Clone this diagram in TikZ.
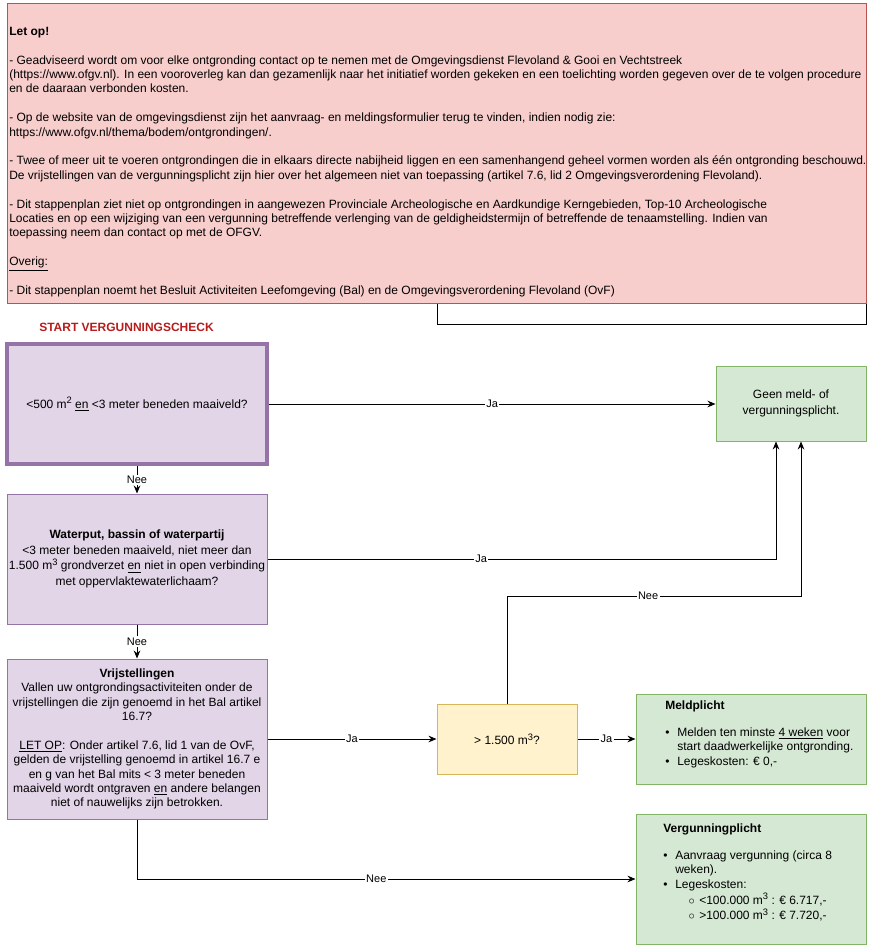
\documentclass[tikz,border=0pt]{standalone}
\usepackage{fontspec}
\setmainfont{Liberation Sans}
\usetikzlibrary{arrows.meta}

\newcommand{\macht}[1]{\raisebox{3.3pt}{\fontsize{7}{7}\selectfont #1}}

\begin{document}
\begin{tikzpicture}[x=0.75pt, y=-0.75pt,
    vraag/.style={draw=Cpaarsrand, fill=Cpaars, line width=0.75pt, minimum width=195pt, align=center, inner sep=0pt, font=\fontsize{9}{10.8}\selectfont},
    uitkomst/.style={draw=Cgroenrand, fill=Cgroen, line width=0.75pt, minimum width=172.5pt, inner sep=0pt},
    lijst/.style={anchor=north west, align=left, inner sep=0pt, font=\fontsize{9}{10.8}\selectfont},
    pijl/.style={draw=black, line width=0.75pt, -{Stealth[length=6pt, width=5pt]}},
    lbl/.style={fill=white, inner sep=1pt, font=\fontsize{8.25}{9}\selectfont}
]
    \definecolor{Cnote}{HTML}{F8CECC}
    \definecolor{Cnoterand}{HTML}{B85450}
    \definecolor{Cpaars}{HTML}{E1D5E7}
    \definecolor{Cpaarsrand}{HTML}{9673A6}
    \definecolor{Cgroen}{HTML}{D5E8D4}
    \definecolor{Cgroenrand}{HTML}{82B366}
    \definecolor{Cgeel}{HTML}{FFF2CC}
    \definecolor{Cgeelrand}{HTML}{D6B656}
    \definecolor{Crood}{HTML}{B71C1C}

    \useasboundingbox (0,0) rectangle (879,949);

    \coordinate (nee_knik) at (801,596);

    \node[draw=black, fill=white, line width=0.75pt, minimum width=321.75pt, minimum height=33pt, inner sep=0pt] (let_op_achter) at (651.5,302) {};
    \node[draw=Cnoterand, fill=Cnote, line width=0.75pt, minimum width=644.25pt, minimum height=224.25pt, inner sep=0pt] (let_op) at (436.5,153.5) {};
    \node[lijst] (let_op_tekst) at (9,26.7) {
        \textbf{Let op!}\\[10.8pt]
        - Geadviseerd wordt om voor elke ontgronding contact op te nemen met de Omgevingsdienst Flevoland \& Gooi en Vechtstreek\\
        (https://www.ofgv.nl). In een vooroverleg kan dan gezamenlijk naar het initiatief worden gekeken en een toelichting worden gegeven over de te volgen procedure\\
        en de daaraan verbonden kosten.\\[10.8pt]
        - Op de website van de omgevingsdienst zijn het aanvraag- en meldingsformulier terug te vinden, indien nodig zie:\\
        https://www.ofgv.nl/thema/bodem/ontgrondingen/.\\[10.8pt]
        - Twee of meer uit te voeren ontgrondingen die in elkaars directe nabijheid liggen en een samenhangend geheel vormen worden als één ontgronding beschouwd.\\
        De vrijstellingen van de vergunningsplicht zijn hier over het algemeen niet van toepassing (artikel 7.6, lid 2 Omgevingsverordening Flevoland).\\[10.8pt]
        - Dit stappenplan ziet niet op ontgrondingen in aangewezen Provinciale Archeologische en Aardkundige Kerngebieden, Top-10 Archeologische\\
        Locaties en op een wijziging van een vergunning betreffende verlenging van de geldigheidstermijn of betreffende de tenaamstelling. Indien van\\
        toepassing neem dan contact op met de OFGV.\\[10.8pt]
        \underline{Overig:}\\[10.8pt]
        - Dit stappenplan noemt het Besluit Activiteiten Leefomgeving (Bal) en de Omgevingsverordening Flevoland (OvF)
    };

    \node[text=Crood, font=\fontsize{9}{10}\selectfont\bfseries, inner sep=0pt] (start_label) at (126.5,327) {START VERGUNNINGSCHECK};

    \node[vraag, line width=3pt, minimum height=90pt] (check_opp) at (137,404) {<500 m\macht{2} \underline{en} <3 meter beneden maaiveld?};
    \node[vraag, minimum height=97.5pt, font=\fontsize{9}{11.6}\selectfont] (check_water) at (137,559) {\textbf{Waterput, bassin of waterpartij}\\ <3 meter beneden maaiveld, niet meer dan\\ 1.500 m\macht{3} grondverzet \underline{en} niet in open verbinding\\ met oppervlaktewaterlichaam?};
    \node[vraag, minimum height=120pt] (check_vrij) at (137,739) {\textbf{Vrijstellingen}\\ Vallen uw ontgrondingsactiviteiten onder de\\ vrijstellingen die zijn genoemd in het Bal artikel\\ 16.7?\\[10.8pt] \underline{LET OP}: Onder artikel 7.6, lid 1 van de OvF,\\ gelden de vrijstelling genoemd in artikel 16.7 e\\ en g van het Bal mits < 3 meter beneden\\ maaiveld wordt ontgraven \underline{en} andere belangen\\ niet of nauwelijks zijn betrokken.};

    \node[uitkomst, minimum width=112.5pt, minimum height=56.25pt, align=center, font=\fontsize{9}{12}\selectfont] (geen_plicht) at (791,403.5) {Geen meld- of\\ vergunningsplicht.};
    \node[draw=Cgeelrand, fill=Cgeel, line width=0.75pt, minimum width=105pt, minimum height=52.5pt, inner sep=0pt, font=\fontsize{9}{10.8}\selectfont] (check_volume) at (507,739) {> 1.500 m\macht{3}?};
    \node[uitkomst, minimum height=67.5pt] (meld_plicht) at (751,739) {};
    \node[uitkomst, minimum height=97.5pt] (verg_plicht) at (751,879) {};

    \node[lijst] (meld_tekst) at (665,700.5) {
        \textbf{Meldplicht}\\[9.5pt]
        \makebox[9pt][l]{\textbullet}Melden ten minste \underline{4 weken} voor\\
        \hspace*{9pt}start daadwerkelijke ontgronding.\\
        \makebox[9pt][l]{\textbullet}Legeskosten: € 0,-
    };
    \node[lijst] (verg_tekst) at (663,823.5) {
        \textbf{Vergunningplicht}\\[9.5pt]
        \makebox[9pt][l]{\textbullet}Aanvraag vergunning (circa 8\\
        \hspace*{9pt}weken).\\
        \makebox[9pt][l]{\textbullet}Legeskosten:\\[1pt]
        \hspace*{19pt}\makebox[8pt][l]{$\circ$}<100.000 m\macht{3} : € 6.717,-\\[1pt]
        \hspace*{19pt}\makebox[8pt][l]{$\circ$}>100.000 m\macht{3} : € 7.720,-
    };

    \path[pijl] (check_opp.east) -- node[lbl] {Ja} (check_opp.east -| geen_plicht.west);
    \path[pijl] (check_opp.south) -- node[lbl] {Nee} (check_water.north);
    \path[pijl] (check_water.east) -| node[lbl, pos=0.21] {Ja} ([xshift=-11.25pt]geen_plicht.south);
    \path[pijl] (check_water.south) -- node[lbl] {Nee} (check_vrij.north);
    \path[pijl] (check_vrij.east) -- node[lbl] {Ja} (check_vrij.east -| check_volume.west);
    \path[pijl] (check_volume.north) |- node[lbl, pos=0.74] {Nee} (nee_knik) -- ([xshift=7.5pt]geen_plicht.south);
    \path[pijl] (check_volume) -- node[lbl] {Ja} (meld_plicht);
    \path[pijl] (check_vrij.south) |- node[lbl, pos=0.74] {Nee} (verg_plicht.west);

\end{tikzpicture}
\end{document}
